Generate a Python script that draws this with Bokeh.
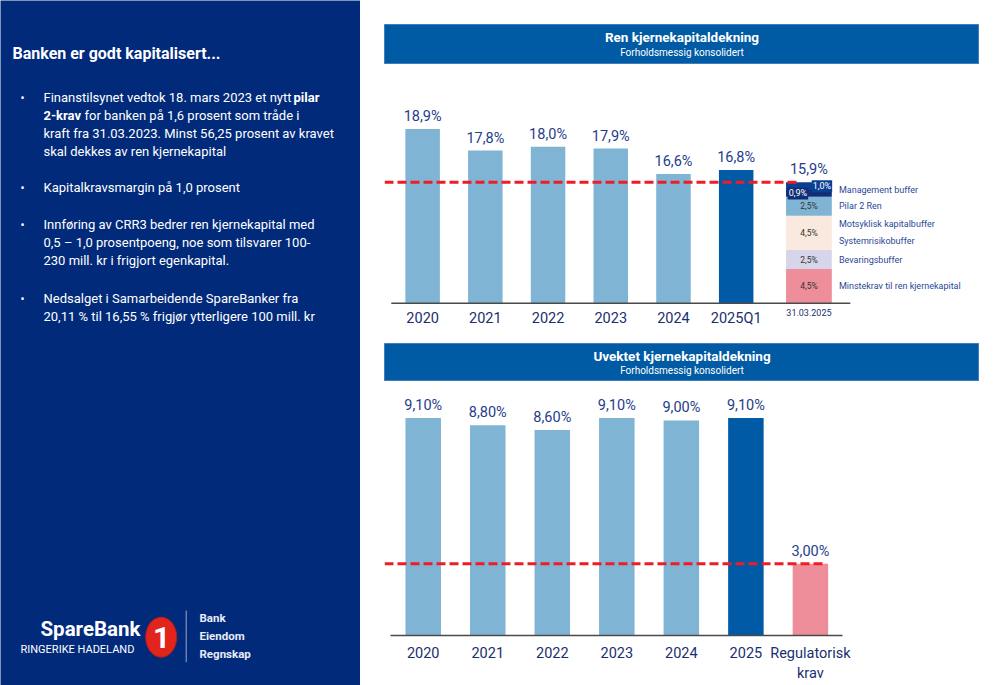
from bokeh.plotting import figure
from bokeh.models import Range1d, FixedTicker, ColumnDataSource, Spacer
from bokeh.layouts import row, column
from bokeh.core.properties import value
from bokeh.embed import file_html
from bokeh.resources import INLINE

FONT = "Roboto"

# ---------------- data ----------------
top_categories = ["2020", "2021", "2022", "2023", "2024", "2025Q1"]
top_values = [18.9, 17.8, 18.0, 17.9, 16.6, 16.8]

req_date = "31.03.2025"
req_values = [4.5, 2.5, 4.5, 2.5, 0.9, 1.0]
req_legend = ["Minstekrav til ren kjernekapital", "Bevaringsbuffer", "Systemrisikobuffer",
              "Motsyklisk kapitalbuffer", "Pilar 2 Ren", "Management buffer"]

bottom_categories = ["2020", "2021", "2022", "2023", "2024", "2025", "Regulatorisk\nkrav"]
bottom_values = [9.10, 8.80, 8.60, 9.10, 9.00, 9.10, 3.00]

left_title = "Banken er godt kapitalisert..."
bullets = [
    [("Finanstilsynet vedtok 18. mars 2023 et nytt ", "normal"), ("pilar", "bold")],
    [("2-krav", "bold"), (" for banken på 1,6 prosent som tråde i", "normal")],
    [("kraft fra 31.03.2023. Minst 56,25 prosent av kravet", "normal")],
    [("skal dekkes av ren kjernekapital", "normal")],
    [("Kapitalkravsmargin på 1,0 prosent", "normal")],
    [("Innføring av CRR3 bedrer ren kjernekapital med", "normal")],
    [("0,5 – 1,0 prosentpoeng, noe som tilsvarer 100-", "normal")],
    [("230 mill. kr i frigjort egenkapital.", "normal")],
    [("Nedsalget i Samarbeidende SpareBanker fra", "normal")],
    [("20,11 % til 16,55 % frigjør ytterligere 100 mill. kr", "normal")],
]

# ---------------- styles ----------------
NAVY_BG = "#012A7B"
HEADER = "#005AA4"
LIGHT = "#7FB4D4"
DARK = "#005AA6"
PINK = "#EE8E9A"
LAV = "#D6D5EA"
PEACH = "#FAE9DE"
NAVY1 = "#102E78"
NAVY2 = "#0B3F94"
VAL_COL = "#1F3D8A"
AX_COL = "#1A2F6E"
LEG_COL = "#2A4896"
RED = "#EE1C25"


def pct(v, d):
    return f"{v:.{d}f}".replace(".", ",") + "%"


# ---------------- left panel ----------------
LW, LH = 360, 685
left = figure(width=LW, height=LH, x_range=Range1d(0, LW), y_range=Range1d(LH, 0),
              output_backend="svg", toolbar_location=None, min_border=0,
              background_fill_color=NAVY_BG, border_fill_color=NAVY_BG,
              x_axis_location=None, y_axis_location=None, outline_line_color=None)
left.grid.visible = False

left.text(x=[12], y=[53], text=[left_title], text_font=value(FONT), text_font_size="16px",
          text_font_style="bold", text_color="white", text_baseline="middle")

line_y = [97, 115, 133, 151, 187, 224, 242, 260, 298, 316]
bullet_rows = [0, 4, 5, 8]
for i in bullet_rows:
    left.text(x=[22], y=[line_y[i]], text=["•"], text_font=value(FONT), text_font_size="12px",
              text_color="white", text_baseline="middle", text_align="center")
special_x = {(0, 1): 293, (1, 1): 84}
for i, parts in enumerate(bullets):
    for j, (txt, style) in enumerate(parts):
        x = special_x.get((i, j), 43)
        left.text(x=[x], y=[line_y[i]], text=[txt], text_font=value(FONT), text_font_size="13px",
                  text_font_style=style, text_color="white", text_baseline="middle")

# logo
left.text(x=[40], y=[628], text=["SpareBank"], text_font=value(FONT), text_font_size="20.5px",
          text_font_style="bold", text_color="white", text_baseline="middle")
left.text(x=[20], y=[649], text=["RINGERIKE HADELAND"], text_font=value(FONT),
          text_font_size="11px", text_color="white", text_baseline="middle")
left.ellipse(x=[160.7], y=[636.7], width=31, height=40, fill_color="#E1251D", line_color="#B71C17",
             line_width=1)
left.text(x=[161], y=[637], text=["1"], text_font=value(FONT), text_font_size="30px",
          text_font_style="bold", text_color="white", text_baseline="middle", text_align="center")
left.segment(x0=[185.7], y0=[610], x1=[185.7], y1=[661.7], line_color="#9AA6C8", line_width=1)
for txt, yy in zip(["Bank", "Eiendom", "Regnskap"], [617, 635, 653]):
    left.text(x=[199], y=[yy], text=[txt], text_font=value(FONT), text_font_size="11.5px",
              text_font_style="bold", text_color="#E8ECF5", text_baseline="middle")


# ---------------- header helper ----------------
def header(title, subtitle, h, ty, sy):
    hp = figure(width=595, height=h, x_range=Range1d(0, 1), y_range=Range1d(0, 1),
                output_backend="svg", toolbar_location=None, min_border=0,
                background_fill_color=HEADER, border_fill_color=HEADER,
                x_axis_location=None, y_axis_location=None, outline_line_color="#3F7FC0")
    hp.grid.visible = False
    hp.text(x=[0.5], y=[ty], text=[title], text_font=value(FONT), text_font_size="13.5px",
            text_font_style="bold", text_color="white", text_align="center", text_baseline="middle")
    hp.text(x=[0.5], y=[sy], text=[subtitle], text_font=value(FONT), text_font_size="10px",
            text_color="white", text_align="center", text_baseline="middle")
    return row(Spacer(width=24, height=h), hp, Spacer(width=21, height=h))


# ---------------- top chart ----------------
# frame spans y 64..322 (page px); data baseline sits at 302.7
TOP_FRAME_H = 258
BELOW_BASE = 19.3
TOP_PX_PER = 19.57
STACK_PX_PER = 7.6
top_base = 10.0
t_start = top_base - BELOW_BASE / TOP_PX_PER
s_start = 0.0 - BELOW_BASE / STACK_PX_PER
top = figure(width=640, height=274, x_range=Range1d(-0.608, 8.88),
             y_range=Range1d(t_start, t_start + TOP_FRAME_H / TOP_PX_PER),
             output_backend="svg", toolbar_location=None,
             min_border_left=24, min_border_right=21, min_border_top=0, min_border_bottom=16,
             y_axis_location=None, outline_line_color=None)
top.extra_y_ranges = {"stack": Range1d(s_start, s_start + TOP_FRAME_H / STACK_PX_PER)}
top.grid.visible = False

xs_top = list(range(len(top_categories)))
top_colors = [LIGHT] * (len(top_values) - 1) + [DARK]
top_src = ColumnDataSource(dict(x=xs_top, top=top_values, color=top_colors,
                                label=[pct(v, 1) for v in top_values]))
top.vbar(x="x", top="top", bottom=top_base, width=0.55, fill_color="color", line_color=None,
         source=top_src)
top.text(x="x", y="top", text="label", source=top_src, text_font=value(FONT), text_font_size="14.5px",
         text_color=VAL_COL, text_align="center", text_baseline="bottom", y_offset=-4)

# stacked requirement bar
stack_x = len(top_categories) + 0.16
stack_colors = [PINK, LAV, PEACH, LIGHT, NAVY1, NAVY2]
bottoms, tops = [], []
acc = 0.0
for v in req_values:
    bottoms.append(acc)
    acc += v
    tops.append(acc)
total_req = acc
top.vbar(x=[stack_x] * len(req_values), bottom=bottoms, top=tops, width=0.73,
         fill_color=stack_colors, line_color=None, y_range_name="stack")
centers = [(b + t) / 2 for b, t in zip(bottoms, tops)]
top.text(x=[stack_x] * 4, y=centers[:4], text=[pct(v, 1) for v in req_values[:4]],
         text_font=value(FONT), text_font_size="8.5px", text_color="#333333",
         text_align="center", text_baseline="middle", y_range_name="stack")
top.text(x=[stack_x], y=[centers[4]], text=[pct(req_values[4], 1)], x_offset=-11,
         text_font=value(FONT), text_font_size="9px", text_color="white",
         text_align="center", text_baseline="middle", y_range_name="stack",
         background_fill_color=NAVY1, padding=1)
top.text(x=[stack_x], y=[centers[5]], text=[pct(req_values[5], 1)], x_offset=13,
         text_font=value(FONT), text_font_size="9px", text_color="white",
         text_align="center", text_baseline="middle", y_range_name="stack",
         background_fill_color=NAVY2, padding=1)
top.text(x=[stack_x], y=[total_req], text=[pct(total_req, 1)], text_font=value(FONT),
         text_font_size="14.5px", text_color=VAL_COL, text_align="center", text_baseline="bottom",
         y_offset=-4, y_range_name="stack")

leg_y = [centers[0], centers[1], bottoms[2] + 0.25 * req_values[2], bottoms[2] + 0.75 * req_values[2],
         centers[3], (bottoms[4] + tops[5]) / 2]
top.text(x=[stack_x] * len(req_legend), y=leg_y, text=req_legend, x_offset=30,
         text_font=value(FONT), text_font_size="9px", text_color=LEG_COL,
         text_align="left", text_baseline="middle", y_range_name="stack")

# date under the requirement bar
top.text(x=[stack_x], y=[0], text=[req_date], y_offset=9, text_font=value(FONT),
         text_font_size="9px", text_color=AX_COL, text_align="center", text_baseline="middle",
         y_range_name="stack")

# baseline
top.segment(x0=[-0.5], x1=[6.82], y0=[top_base], y1=[top_base], line_color="#4A4A4A", line_width=1.5)

# requirement line
top.segment(x0=[top.x_range.start], x1=[len(top_categories) - 0.02], y0=[total_req], y1=[total_req],
            line_color=RED, line_width=3, line_dash="9 4", y_range_name="stack")

top.xaxis.ticker = FixedTicker(ticks=xs_top)
top.xaxis.major_label_overrides = {i: c for i, c in enumerate(top_categories)}
top.xaxis.major_tick_line_color = None
top.xaxis.minor_tick_line_color = None
top.xaxis.axis_line_color = None
top.xaxis.major_label_text_font = FONT
top.xaxis.major_label_text_font_size = "14.5px"
top.xaxis.major_label_text_color = AX_COL
top.xaxis.major_label_standoff = -19

# ---------------- bottom chart ----------------
BOT_FRAME_H = 254
BOT_PX_PER = 23.9
bot = figure(width=640, height=304, x_range=Range1d(-0.6, 8.62),
             y_range=Range1d(0, BOT_FRAME_H / BOT_PX_PER),
             output_backend="svg", toolbar_location=None,
             min_border_left=24, min_border_right=21, min_border_top=0, min_border_bottom=50,
             y_axis_location=None, outline_line_color=None)
bot.grid.visible = False
xs_bot = list(range(len(bottom_categories)))
bot_colors = [LIGHT] * 5 + [DARK, PINK]
bot_src = ColumnDataSource(dict(x=xs_bot, top=bottom_values, color=bot_colors,
                                label=[pct(v, 2) for v in bottom_values]))
bot.vbar(x="x", top="top", width=0.55, fill_color="color", line_color=None, source=bot_src)
bot.text(x="x", y="top", text="label", source=bot_src, text_font=value(FONT), text_font_size="14.5px",
         text_color=VAL_COL, text_align="center", text_baseline="bottom", y_offset=-4)
bot.segment(x0=[bot.x_range.start], x1=[xs_bot[-1] + 0.25], y0=[bottom_values[-1]],
            y1=[bottom_values[-1]], line_color=RED, line_width=3, line_dash="9 4")
bot.xaxis.ticker = FixedTicker(ticks=xs_bot)
bot.xaxis.major_label_overrides = {i: c for i, c in enumerate(bottom_categories)}
bot.xaxis.bounds = (-0.5, 6.5)
bot.xaxis.major_tick_line_color = None
bot.xaxis.minor_tick_line_color = None
bot.xaxis.axis_line_color = "#4A4A4A"
bot.xaxis.axis_line_width = 1.5
bot.xaxis.major_label_text_font = FONT
bot.xaxis.major_label_text_font_size = "14.5px"
bot.xaxis.major_label_text_color = AX_COL
bot.xaxis.major_label_standoff = 3

right = column(
    Spacer(width=640, height=24),
    header("Ren kjernekapitaldekning", "Forholdsmessig konsolidert", 40, 0.68, 0.3),
    top,
    Spacer(width=640, height=5),
    header("Uvektet kjernekapitaldekning", "Forholdsmessig konsolidert", 38, 0.68, 0.29),
    bot,
)
layout = row(left, right)

open("out.html", "w").write(file_html(layout, INLINE))
